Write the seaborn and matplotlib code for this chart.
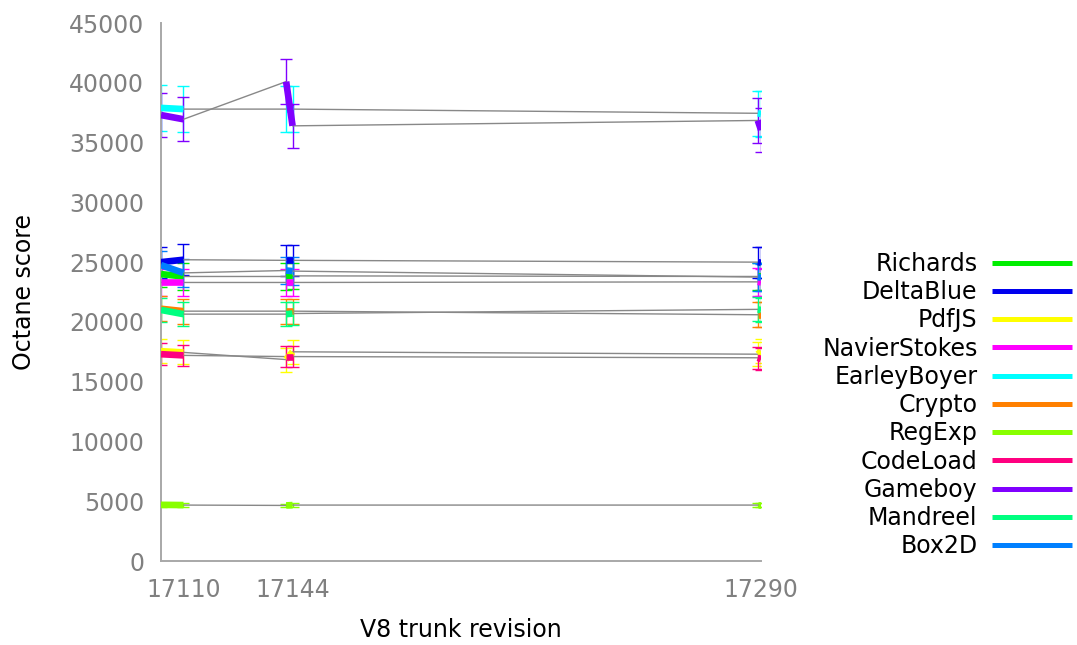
import pandas as pd
import matplotlib.pyplot as plt
import seaborn as sns
from matplotlib.lines import Line2D

# revisions: each build is drawn as a short segment between two close revisions
revs = [17103, 17110, 17142, 17144, 17289, 17290]
pairs = [0, 0, 1, 1, 2, 2]
tick_revs = [17110, 17144, 17290]
minor_revs = [17142, 17289]

benchmarks = ["Richards", "DeltaBlue", "PdfJS", "NavierStokes", "EarleyBoyer",
              "Crypto", "RegExp", "CodeLoad", "Gameboy", "Mandreel", "Box2D"]
colors = ["#00ee00", "#0000ee", "#ffff00", "#ff00ff", "#00ffff",
          "#ff8000", "#88ff00", "#ff0080", "#8000ff", "#00ff80", "#0080ff"]

richards = [24000, 23800, 23800, 23850, 23800, 23800]
deltablue = [25000, 25200, 25150, 25150, 25000, 24950]
pdfjs = [17550, 17450, 16850, 17500, 17300, 17550]
navierstokes = [23300, 23300, 23300, 23300, 23350, 23300]
earleyboyer = [37900, 37800, 37800, 37800, 37450, 37400]
crypto = [21100, 20900, 20900, 20900, 20600, 20600]
regexp = [4700, 4680, 4650, 4680, 4680, 4680]
codeload = [17300, 17200, 17100, 17100, 17000, 16900]
gameboy = [37300, 36950, 40100, 36400, 36850, 36050]
mandreel = [21000, 20650, 20650, 20700, 21050, 21000]
box2d = [24750, 24100, 24300, 24250, 23750, 23700]

# standard deviation per benchmark
errors = [1100, 1300, 1000, 1150, 1900, 1050, 150, 900, 1850, 1000, 1150]

scores = [richards, deltablue, pdfjs, navierstokes, earleyboyer, crypto,
          regexp, codeload, gameboy, mandreel, box2d]

rows = []
for name, vals, err in zip(benchmarks, scores, errors):
    for r, p, v in zip(revs, pairs, vals):
        rows.append({"bench": name, "rev": r, "pair": p, "score": v, "err": err})
df = pd.DataFrame(rows)

sns.set_style("white")
plt.rcParams["font.family"] = ["DejaVu Sans"]
grey = "#808080"
axis_grey = "#a8a8a8"

fig = plt.figure(figsize=(10.77, 6.45), dpi=100)
ax = fig.add_axes([0.1495, 0.1302, 0.5571, 0.8341])

palette = dict(zip(benchmarks, colors))

for name in benchmarks:
    sub = df[df["bench"] == name]
    ax.errorbar(sub["rev"], sub["score"], yerr=sub["err"], fmt="none",
                ecolor=palette[name], elinewidth=1, capsize=4.3, capthick=1,
                zorder=2)

sns.lineplot(data=df, x="rev", y="score", units="bench", estimator=None,
             color="#888888", lw=1.0, sort=False, legend=False, ax=ax, zorder=3)
sns.lineplot(data=df, x="rev", y="score", hue="bench", units="pair",
             estimator=None, palette=palette, hue_order=benchmarks, lw=4.8,
             sort=False, legend=False, ax=ax, zorder=4, solid_capstyle="butt")

ax.set_xlim(17103, 17290)
ax.set_ylim(0, 45000)
ax.set_yticks(range(0, 45001, 5000))
ax.set_xticks(tick_revs)
ax.set_xticks(minor_revs, minor=True)

for side in ["top", "right"]:
    ax.spines[side].set_visible(False)
for side in ["left", "bottom"]:
    ax.spines[side].set_color(axis_grey)
    ax.spines[side].set_linewidth(1.4)

ax.tick_params(axis="both", which="both", direction="in", length=8.6,
               width=1, color=axis_grey, labelcolor=grey, labelsize=17)
ax.tick_params(axis="x", which="both", pad=12)
ax.tick_params(axis="y", pad=12)

ax.set_xlabel("V8 trunk revision", fontsize=17, color="black")
ax.set_ylabel("Octane score", fontsize=17, color="black")
ax.xaxis.set_label_coords(0.5, -0.105)
ax.yaxis.set_label_coords(-0.208, 0.5)

handles = [Line2D([], [], color=c, lw=3.6, solid_capstyle="butt") for c in colors]
fig.legend(handles, benchmarks, loc="center right",
           bbox_to_anchor=(0.9954, 0.372), frameon=False, fontsize=17,
           markerfirst=False, handlelength=3.4, handletextpad=0.6,
           labelspacing=0.18, borderpad=0, borderaxespad=0, labelcolor="black")

fig.savefig("out.png", dpi=100)
plt.close(fig)
